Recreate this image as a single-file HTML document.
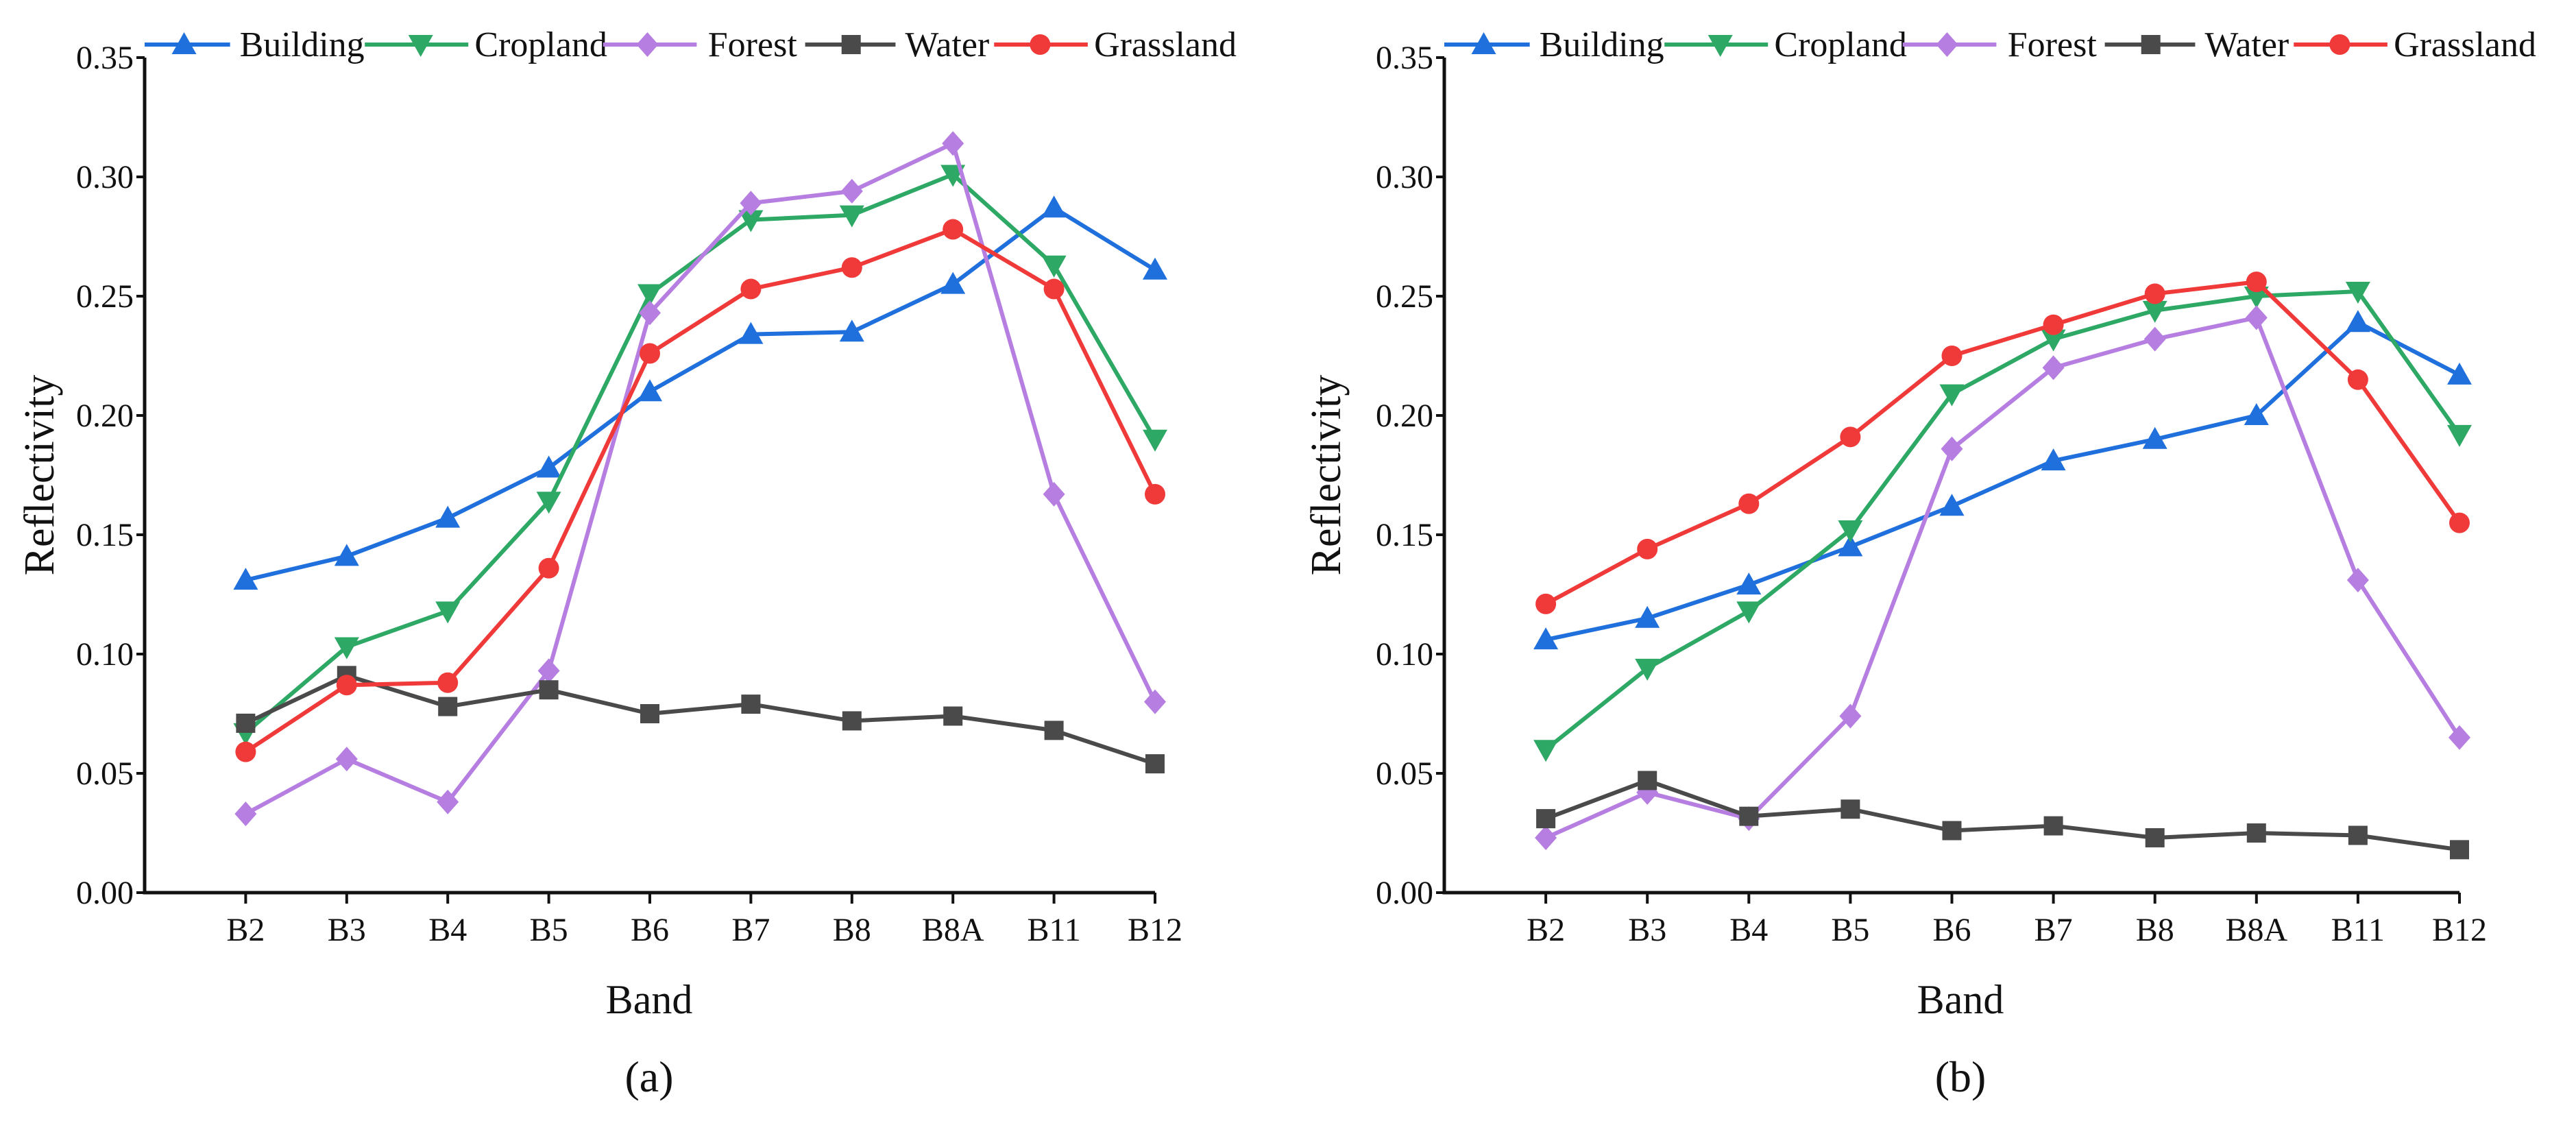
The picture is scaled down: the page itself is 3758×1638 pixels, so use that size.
<!DOCTYPE html>
<html><head><meta charset="utf-8"><style>
html,body{margin:0;padding:0;background:#fff;}
svg{display:block;font-family:"Liberation Serif",serif;}
</style></head><body>
<svg id="chart" width="3758" height="1638" viewBox="0 0 3758 1638" xmlns="http://www.w3.org/2000/svg"></svg>
<script>
const categories = ["B2","B3","B4","B5","B6","B7","B8","B8A","B11","B12"];
const yTicks = [0,0.05,0.10,0.15,0.20,0.25,0.30,0.35];
const seriesNames = ["Building","Cropland","Forest","Water","Grassland"];
const aBuilding = [.131,.141,.157,.178,.210,.234,.235,.255,.287,.261];
const aCropland = [.067,.103,.118,.164,.251,.282,.284,.301,.263,.190];
const aForest = [.033,.056,.038,.093,.243,.289,.294,.314,.167,.080];
const aWater = [.071,.091,.078,.085,.075,.079,.072,.074,.068,.054];
const aGrassland = [.059,.087,.088,.136,.226,.253,.262,.278,.253,.167];
const bBuilding = [.106,.115,.129,.145,.162,.181,.190,.200,.239,.217];
const bCropland = [.060,.094,.118,.152,.209,.232,.244,.250,.252,.192];
const bForest = [.023,.042,.031,.074,.186,.220,.232,.241,.131,.065];
const bWater = [.031,.047,.032,.035,.026,.028,.023,.025,.024,.018];
const bGrassland = [.121,.144,.163,.191,.225,.238,.251,.256,.215,.155];

const colors = ["#1f6fdc","#2ea865","#b57ee0","#4a4a4a","#f03a3a"];
const markers = ["tri-up","tri-down","diamond","square","circle"];
const NS = "http://www.w3.org/2000/svg";
const svg = document.getElementById("chart");
function el(tag, attrs, parent){const e=document.createElementNS(NS,tag);for(const k in attrs)e.setAttribute(k,attrs[k]);(parent||svg).appendChild(e);return e;}

function marker(type,x,y,c,g){
  const s=15;
  let m;
  if(type==="tri-up") m=el("polygon",{points:`${x},${y-s-3} ${x-s-3},${y+s-1} ${x+s+3},${y+s-1}`,fill:c},g);
  else if(type==="tri-down") m=el("polygon",{points:`${x},${y+s+3} ${x-s-3},${y-s+1} ${x+s+3},${y-s+1}`,fill:c},g);
  else if(type==="diamond") m=el("polygon",{points:`${x},${y-s-3} ${x+s+1},${y} ${x},${y+s+3} ${x-s-1},${y}`,fill:c},g);
  else if(type==="square") m=el("rect",{x:x-s+1,y:y-s+1,width:2*s-2,height:2*s-2,fill:c},g);
  else m=el("circle",{cx:x,cy:y,r:s,fill:c},g);
  return m;
}

function panel(id,x0,x1,yTop,yBot,data,label,labelX,reflX){
  const g=el("g",{});
  
  
  const step=(x1-x0)/categories.length;
  const xs=i=>x0+step*(i+1);
  const ys=v=>yBot-(v/0.35)*(yBot-yTop);
  const ax=el("path",{d:`M${x0},${yTop} L${x0},${yBot} L${x1},${yBot}`,stroke:"#111",fill:"none","stroke-width":5},g);
  
  
  yTicks.forEach(v=>{
    const y=ys(v);
    el("line",{x1:x0-12,x2:x0,y1:y,y2:y,stroke:"#111","stroke-width":4},g);
    const t=el("text",{x:x0-16,y:y+16,"text-anchor":"end","font-size":48,fill:"#111"},g);
    t.textContent=v.toFixed(2);
    
    
  });
  categories.forEach((c,i)=>{
    const x=xs(i);
    el("line",{x1:x,x2:x,y1:yBot,y2:yBot+16,stroke:"#111","stroke-width":4},g);
    const t=el("text",{x:x,y:yBot+70,"text-anchor":"middle","font-size":48,fill:"#111"},g);
    t.textContent=c;
    
    
  });
  data.forEach((arr,si)=>{
    const sg=el("g",{},g);
    
    
    el("polyline",{points:arr.map((v,i)=>xs(i)+","+ys(v)).join(" "),fill:"none",stroke:colors[si],"stroke-width":6,"stroke-linejoin":"round"},sg);
    arr.forEach((v,i)=>{
      const m=marker(markers[si],xs(i),ys(v),colors[si],sg);
      
      
    });
  });
  const lo=[[0,52,24,57],[134,197,168,200],[279,336,306,342],[402,457,430,462],[517,574,545,577]];
  const ly=65;
  seriesNames.forEach((n,si)=>{
    const lg=el("g",{},g);
    
    
    const k=2.397;
    const o=lo[si];
    el("line",{x1:x0+o[0]*k,x2:x0+o[1]*k,y1:ly,y2:ly,stroke:colors[si],"stroke-width":6},lg);
    marker(markers[si],x0+o[2]*k,ly,colors[si],lg);
    const t=el("text",{x:x0+o[3]*k+2,y:ly+17,"font-size":52,fill:"#111"},lg);
    t.textContent=n;
  });
  const bt=el("text",{x:labelX,y:1478,"text-anchor":"middle","font-size":60,fill:"#111"},g);
  bt.textContent="Band";
  
  
  const rt=el("text",{x:0,y:0,"text-anchor":"middle","font-size":62,fill:"#111",transform:`translate(${reflX},${(yTop+yBot)/2}) rotate(-90)`},g);
  rt.textContent="Reflectivity";
  
  
  const lt=el("text",{x:labelX,y:1592,"text-anchor":"middle","font-size":64,fill:"#111"},g);
  lt.textContent=label;
  
  
}
panel("panel-a",211,1685,84,1302,[aBuilding,aCropland,aForest,aWater,aGrassland],"(a)",947,78);
panel("panel-b",2107,3588,84,1302,[bBuilding,bCropland,bForest,bWater,bGrassland],"(b)",2860,1955);
</script>
</body></html>
